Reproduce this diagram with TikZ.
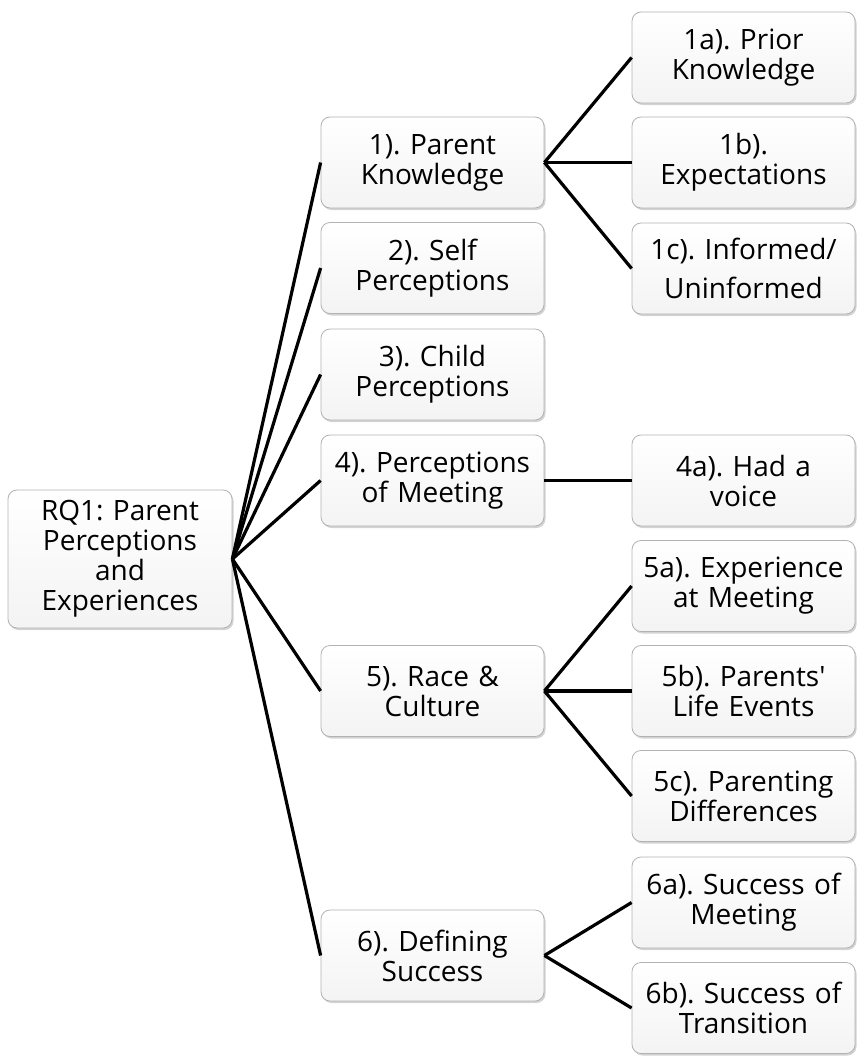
\documentclass[tikz,border=0pt]{standalone}
\usepackage{fontspec}
\setmainfont{Open Sans}
\frenchspacing
\usetikzlibrary{shadows}
\tikzset{theme/.style={draw=gray!60, line width=0.8pt, rounded corners=9pt, top color=white, bottom color=gray!9, drop shadow={shadow xshift=1.5pt, shadow yshift=-2pt, opacity=0.35, fill=gray}, align=center, inner sep=6pt, minimum height=91pt, text width=211pt, font=\fontsize{28}{30}\selectfont}}
\tikzset{link/.style={line width=3.2pt}}

\begin{document}
\begin{tikzpicture}[x=1pt, y=-1pt]
                    \useasboundingbox (0,0) rectangle (857,1057);

                    \node[theme, text width=212pt, minimum height=138pt] (rq) at (120,559) {RQ1: Parent\\Perceptions\\and\\Experiences};

                    \node[theme] (pk) at (432.5,162.5) {1). Parent\\Knowledge};
                    \node[theme] (sp) at (432.5,268) {2). Self\\Perceptions};
                    \node[theme] (cp) at (432.5,374.5) {3). Child\\Perceptions};
                    \node[theme] (pm) at (432.5,480.5) {4). Perceptions\\of Meeting};
                    \node[theme] (rc) at (432.5,691) {5). Race \&\\Culture};
                    \node[theme] (ds) at (432.5,955.5) {6). Defining\\Success};

                    \node[theme] (pka) at (743.5,57.5) {1a). Prior\\Knowledge};
                    \node[theme] (pkb) at (743.5,162.5) {1b).\\Expectations};
                    \node[theme] (pkc) at (743.5,268.5) {1c). Informed/\\[9pt]Uninformed};
                    \node[theme] (pma) at (743.5,480.5) {4a). Had a\\voice};
                    \node[theme] (rca) at (743.5,586) {5a). Experience\\at Meeting};
                    \node[theme] (rcb) at (743.5,691) {5b). Parents\textquotesingle\\Life Events};
                    \node[theme] (rcc) at (743.5,796) {5c). Parenting\\Differences};
                    \node[theme] (dsa) at (743.5,902.5) {6a). Success of\\Meeting};
                    \node[theme] (dsb) at (743.5,1008) {6b). Success of\\Transition};

                    \draw[link] (rq.east) -- (pk.west);
                    \draw[link] (rq.east) -- (sp.west);
                    \draw[link] (rq.east) -- (cp.west);
                    \draw[link] (rq.east) -- (pm.west);
                    \draw[link] (rq.east) -- (rc.west);
                    \draw[link] (rq.east) -- (ds.west);

                    \draw[link] (pk.east) -- (pka.west);
                    \draw[link] (pk.east) -- (pkb.west);
                    \draw[link] (pk.east) -- (pkc.west);
                    \draw[link] (pm.east) -- (pma.west);
                    \draw[link] (rc.east) -- (rca.west);
                    \draw[link] (rc.east) -- (rcb.west);
                    \draw[link] (rc.east) -- (rcc.west);
                    \draw[link] (ds.east) -- (dsa.west);
                    \draw[link] (ds.east) -- (dsb.west);
                \end{tikzpicture}
\end{document}
